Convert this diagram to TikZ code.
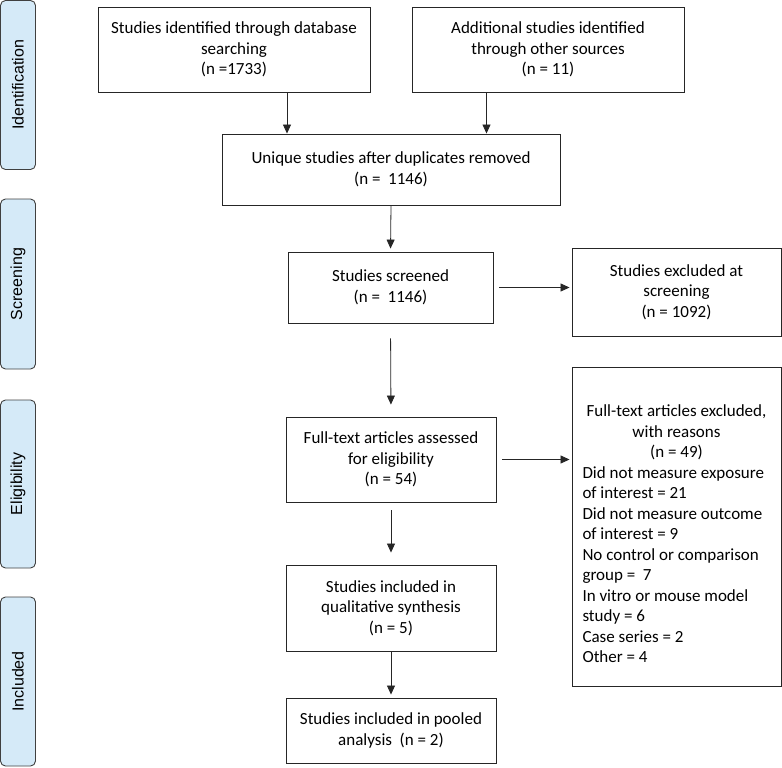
\documentclass[tikz,border=0pt]{standalone}
\usepackage{fontspec}
\setmainfont{Carlito}
\newfontfamily\phasefont{Liberation Sans}
\usetikzlibrary{arrows.meta}
\definecolor{phaseblue}{RGB}{213,234,248}
\newcommand{\boxfont}{\fontsize{17}{20.5}\selectfont}
\newcommand{\midline}[1]{\makebox[188pt][c]{#1}}

\begin{document}
\begin{tikzpicture}[x=10pt,y=-10pt,
	box/.style={draw=black!85,line width=0.9pt,align=center,inner sep=2pt,font=\boxfont},
	phase/.style={draw=black!75,line width=0.9pt,fill=phaseblue,rounded corners=5pt,rotate=90,minimum height=35pt,font=\phasefont\fontsize{16}{19}\selectfont},
	arr/.style={-{Triangle[length=9pt,width=8pt]},line width=0.8pt,draw=black!85}]
\useasboundingbox (0,0) rectangle (78.2,76.8);
% phases on the left
\node[phase,minimum width=169pt] (ident) at (1.8,8.5) {Identification};
\node[phase,minimum width=170pt] (screen) at (1.8,28.4) {Screening};
\node[phase,minimum width=168pt] (elig) at (1.8,48.4) {Eligibility};
\node[phase,minimum width=169pt] (incl) at (1.8,68.15) {Included};
% flow boxes
\node[box,minimum width=272pt,minimum height=85pt] (dbsearch) at (23.4,4.95) {Studies identified through database\\searching\\(n =1733)};
\node[box,minimum width=272pt,minimum height=85pt] (othersrc) at (54.8,4.95) {Additional studies identified\\through other sources\\(n = 11)};
\node[box,minimum width=338pt,minimum height=71pt] (unique) at (39.1,16.95) {Unique studies after duplicates removed\\(n = \ 1146)};
\node[box,minimum width=205pt,minimum height=71pt] (screened) at (39.05,28.75) {Studies screened\\(n = \ 1146)};
\node[box,minimum width=209pt,minimum height=88pt] (exclscr) at (67.65,29.2) {Studies excluded at\\screening\\(n = 1092)};
\node[box,minimum width=210pt,minimum height=85pt] (fulltext) at (39.1,45.95) {Full-text articles assessed\\for eligibility\\(n = 54)};
\node[box,minimum width=209pt,minimum height=319pt,align=left] (exclft) at (67.65,52.65) {\midline{\rule{0pt}{27pt}Full-text articles excluded,}\\\midline{with reasons}\\\midline{(n = 49)}\\
Did not measure exposure\\of interest = 21\\Did not measure outcome\\of interest = 9\\No control or comparison\\group = \ 7\\In vitro or mouse model\\study = 6\\Case series = 2\\Other = 4};
\node[box,minimum width=210pt,minimum height=86pt] (qual) at (39.1,60.8) {Studies included in\\qualitative synthesis\\(n = 5)};
\node[box,minimum width=210pt,minimum height=65pt] (pooled) at (39.1,73.05) {Studies included in pooled\\analysis \ (n = 2)};
% arrows
\draw[arr] ([xshift=53pt]dbsearch.south) -- ([xshift=53pt]dbsearch.south |- unique.north);
\draw[arr] ([xshift=-61.5pt]othersrc.south) -- ([xshift=-61.5pt]othersrc.south |- unique.north);
\draw[arr,shorten >=3pt] (unique.south) -- (screened.north);
\draw[arr,shorten <=6pt,shorten >=2pt] (screened.east) -- (screened.east -| exclscr.west);
\draw[arr,shorten <=15pt,shorten >=12pt] (screened.south) -- (fulltext.north);
\draw[arr,shorten <=6pt,shorten >=2pt] (fulltext.east) -- (fulltext.east -| exclft.west);
\draw[arr,shorten <=8pt,shorten >=12pt] (fulltext.south) -- (qual.north);
\draw[arr,shorten >=3pt] (qual.south) -- (pooled.north);
\end{tikzpicture}
\end{document}
